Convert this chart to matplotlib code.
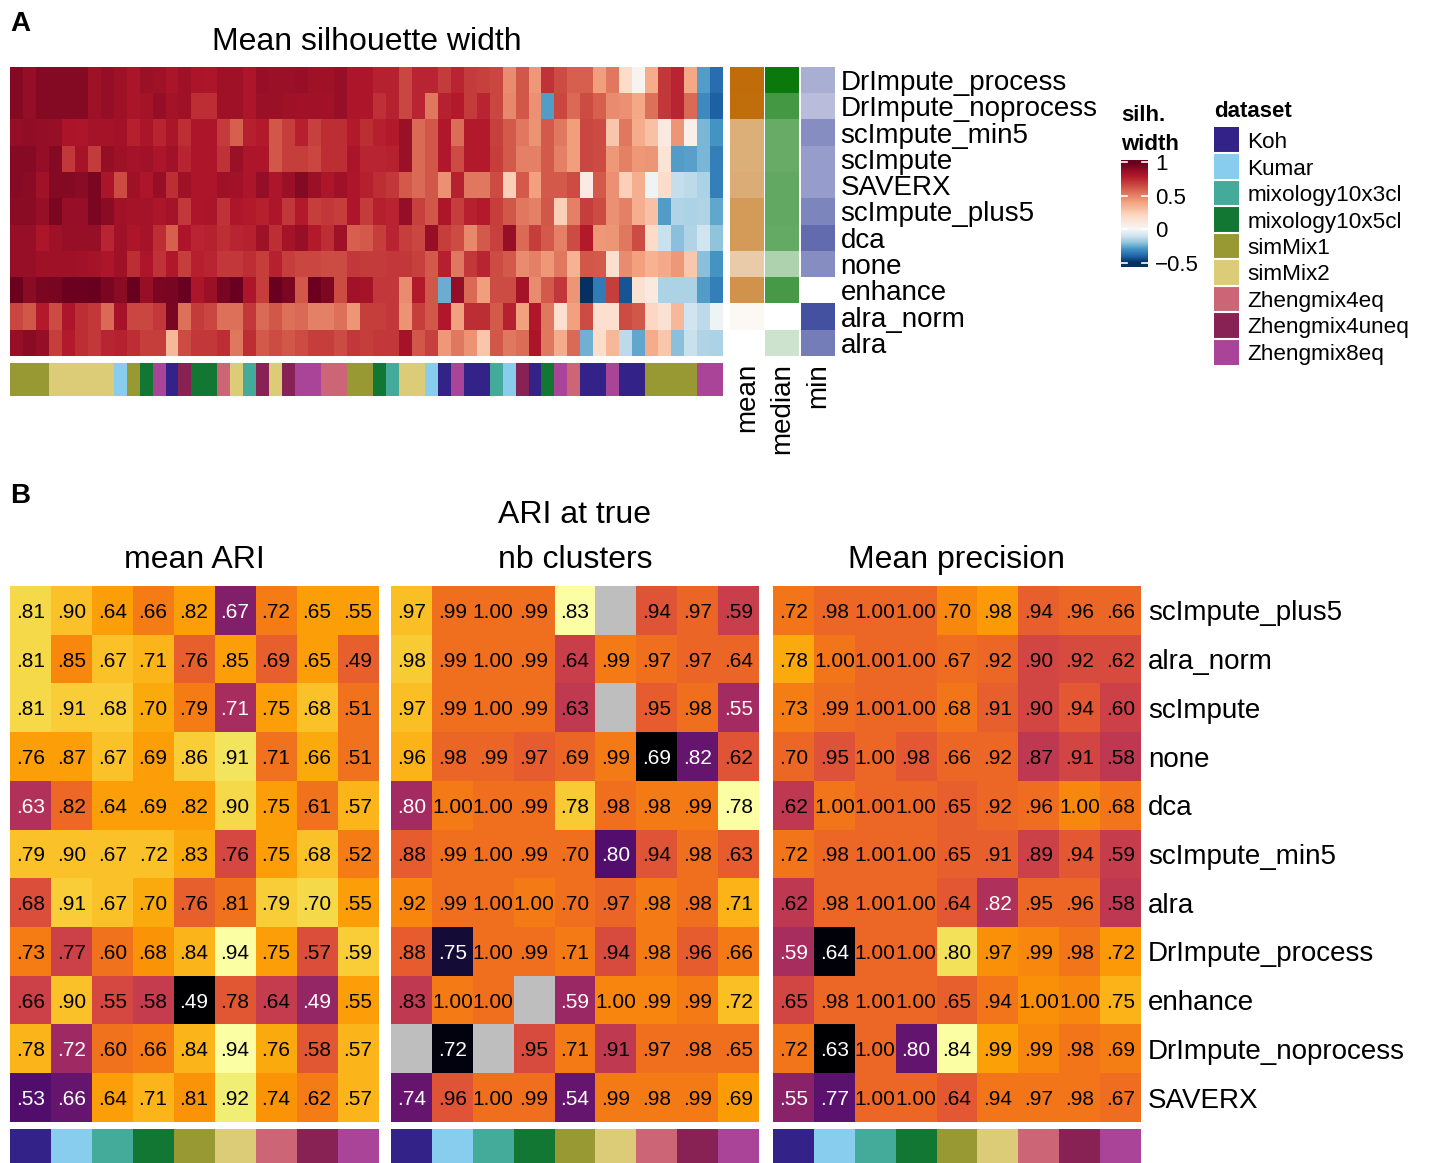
"""Imputation benchmark figure.

  A  per-subpopulation mean silhouette width for each imputation method,
     with mean / median / min summary columns and a dataset annotation bar.
  B  clustering scores per dataset (mean ARI, ARI at true number of
     clusters, mean precision), coloured after column-median centring.
"""
import numpy as np
import matplotlib

matplotlib.use("Agg")
import matplotlib.pyplot as plt
from matplotlib.colors import (ListedColormap, LinearSegmentedColormap,
                               Normalize, PowerNorm, to_rgba)

plt.rcParams["font.family"] = ["Liberation Sans", "DejaVu Sans"]

FIG_W, FIG_H = 1434, 1163
nan = np.nan

DATASETS = ["Koh", "Kumar", "mixology10x3cl", "mixology10x5cl", "simMix1",
            "simMix2", "Zhengmix4eq", "Zhengmix4uneq", "Zhengmix8eq"]
DATASET_COLORS = ["#332288", "#88CCEE", "#44AA99", "#117733", "#999933",
                  "#DDCC77", "#CC6677", "#882255", "#AA4499"]

# ---- panel A: silhouette width per subpopulation ----
silh_methods = ["DrImpute_process", "DrImpute_noprocess", "scImpute_min5",
                "scImpute", "SAVERX", "scImpute_plus5", "dca", "none",
                "enhance", "alra_norm", "alra"]

silh_col_dataset = (
    ["simMix1"] * 3 + ["simMix2"] * 5 + ["Kumar", "simMix1", "mixology10x5cl",
    "Zhengmix8eq", "Koh", "Zhengmix4uneq", "mixology10x5cl", "mixology10x5cl",
    "Zhengmix4eq", "simMix2", "mixology10x3cl", "Zhengmix4uneq", "simMix2",
    "Zhengmix4uneq", "Zhengmix8eq", "Zhengmix8eq", "Zhengmix4eq", "Zhengmix4eq",
    "simMix1", "simMix1", "mixology10x5cl", "mixology10x3cl", "simMix2",
    "simMix2", "Kumar", "Koh", "Zhengmix8eq", "Koh", "Koh", "mixology10x3cl",
    "Kumar", "Zhengmix4uneq", "Koh", "mixology10x5cl", "Zhengmix8eq",
    "Zhengmix4eq", "Koh", "Koh", "Zhengmix8eq", "Koh", "Koh"]
    + ["simMix1"] * 4 + ["Zhengmix8eq"] * 2
)

silh = [
    [.92, .88, .92, .92, .92, .92, .85, .88, .85, .82, .86, .85, .82, .85,
     .82, .81, .85, .85, .81, .87, .86, .86, .87, .85, .85, .87, .81, .81,
     .77, .77, .67, .76, .76, .70, .76, .70, .68, .67, .47, .62, .43, .72,
     .65, .60, .60, .42, .53, .18, .03, .37, .71, .76, .39, -.28, -.38],
    [.92, .88, .92, .92, .92, .92, .85, .88, .85, .82, .83, .88, .83, .85,
     .74, .74, .85, .85, .81, .86, .86, .85, .84, .84, .84, .87, .81, .81,
     .73, .77, .67, .76, .53, .77, .79, .70, .76, .67, .48, .62, .46, -.28,
     .67, .57, .65, .60, .47, .46, .39, .55, .71, .76, .57, -.32, -.41],
    [.88, .89, .88, .87, .82, .81, .83, .83, .84, .78, .82, .76, .82, .74,
     .81, .81, .70, .60, .78, .79, .62, .69, .78, .68, .74, .74, .79, .74,
     .78, .79, .86, .57, .62, .80, .56, .79, .79, .68, .61, .53, .45, .61,
     .53, .42, .67, .65, .28, .53, .37, .29, .10, .44, .05, -.23, -.30],
    [.91, .91, .88, .92, .71, .83, .70, .88, .85, .83, .84, .81, .84, .76,
     .81, .81, .72, .86, .81, .81, .62, .69, .69, .67, .74, .74, .82, .76,
     .76, .77, .86, .57, .62, .80, .65, .79, .79, .69, .61, .50, .50, .61,
     .50, .42, .67, .65, .43, .50, .43, .44, .14, -.28, -.27, -.23, -.34],
    [.91, .90, .84, .92, .92, .90, .94, .82, .65, .85, .81, .87, .74, .85,
     .81, .81, .85, .84, .81, .88, .81, .86, .92, .86, .81, .85, .81, .78,
     .74, .71, .61, .57, .62, .46, .77, .53, .53, .65, .24, .61, .41, .61,
     .61, .65, .08, .61, .46, .24, .36, -.02, .18, -.12, -.13, -.16, -.34],
    [.90, .90, .87, .94, .87, .87, .94, .90, .84, .83, .83, .81, .83, .71,
     .81, .82, .72, .81, .79, .78, .81, .71, .79, .69, .71, .69, .81, .70,
     .78, .76, .88, .68, .62, .81, .69, .77, .79, .69, .62, .53, .50, .62,
     .24, .50, .69, .65, .46, .50, .36, .29, -.28, -.15, -.16, -.15, -.26],
    [.87, .87, .81, .85, .87, .87, .87, .76, .85, .81, .83, .74, .60, .81,
     .76, .77, .74, .76, .77, .85, .74, .83, .87, .79, .74, .85, .60, .61,
     .69, .76, .69, .67, .87, .69, .65, .48, .61, .68, .87, .57, .69, .61,
     .50, .65, .79, .43, .44, .53, .65, .20, -.11, -.21, -.15, -.10, -.20],
    [.87, .87, .85, .85, .85, .84, .83, .81, .85, .74, .81, .72, .80, .69,
     .78, .76, .71, .71, .74, .69, .77, .69, .67, .67, .65, .65, .71, .70,
     .70, .71, .71, .68, .61, .78, .53, .71, .76, .65, .61, .47, .50, .43,
     .53, .35, .62, .61, .17, .47, .41, .35, .38, .43, .27, -.21, -.30],
    [.98, .90, .94, .95, .98, .98, .99, .94, .90, .99, .87, .94, .95, .99,
     .81, .86, .95, .99, .81, .69, .99, .94, .62, .98, .93, .65, .84, .83,
     .71, .71, .47, .79, .62, -.25, .88, .57, .42, .65, .65, .83, .47, .61,
     .71, .44, -.50, -.35, .69, -.43, .15, .10, -.16, -.16, -.16, -.28, -.34],
    [.67, .62, .79, .65, .81, .74, .71, .57, .83, .67, .67, .71, .94, .55,
     .70, .67, .55, .55, .71, .57, .62, .55, .57, .50, .50, .55, .44, .69,
     .69, .71, .45, .69, .62, .80, .41, .74, .74, .61, .77, .41, .80, .53,
     .17, .41, .65, .17, .17, .65, .62, .21, .15, .33, -.10, -.13, -.02],
    [.87, .90, .88, .69, .79, .74, .71, .76, .77, .74, .69, .69, .33, .65,
     .71, .71, .74, .53, .74, .61, .65, .62, .65, .69, .69, .65, .71, .69,
     .71, .71, .83, .62, .68, .43, .53, .45, .28, .62, .53, .56, .82, .53,
     .37, .57, -.24, .18, .33, -.13, -.26, .37, .28, -.21, -.11, -.15, -.16],
]

# per-method summaries of the silhouette widths
silh_mean = [.690, .688, .592, .592, .594, .618, .618, .558, .628, .522, .520]
silh_median = [.820, .749, .711, .711, .716, .716, .714, .645, .746, .600, .622]
silh_min = [-.38, -.41, -.30, -.34, -.34, -.28, -.21, -.30, -.50, -.13, -.26]

# ---- panel B: clustering scores per dataset ----
score_methods = ["scImpute_plus5", "alra_norm", "scImpute", "none", "dca",
                 "scImpute_min5", "alra", "DrImpute_process", "enhance",
                 "DrImpute_noprocess", "SAVERX"]

mean_ari = [
    [.81, .90, .64, .66, .82, .67, .72, .65, .55],
    [.81, .85, .67, .71, .76, .85, .69, .65, .49],
    [.81, .91, .68, .70, .79, .71, .75, .68, .51],
    [.76, .87, .67, .69, .86, .91, .71, .66, .51],
    [.63, .82, .64, .69, .82, .90, .75, .61, .57],
    [.79, .90, .67, .72, .83, .76, .75, .68, .52],
    [.68, .91, .67, .70, .76, .81, .79, .70, .55],
    [.73, .77, .60, .68, .84, .94, .75, .57, .59],
    [.66, .90, .55, .58, .49, .78, .64, .49, .55],
    [.78, .72, .60, .66, .84, .94, .76, .58, .57],
    [.53, .66, .64, .71, .81, .92, .74, .62, .57],
]

ari_true_k = [
    [.97, .99, 1.00, .99, .83, nan, .94, .97, .59],
    [.98, .99, 1.00, .99, .64, .99, .97, .97, .64],
    [.97, .99, 1.00, .99, .63, nan, .95, .98, .55],
    [.96, .98, .99, .97, .69, .99, .69, .82, .62],
    [.80, 1.00, 1.00, .99, .78, .98, .98, .99, .78],
    [.88, .99, 1.00, .99, .70, .80, .94, .98, .63],
    [.92, .99, 1.00, 1.00, .70, .97, .98, .98, .71],
    [.88, .75, 1.00, .99, .71, .94, .98, .96, .66],
    [.83, 1.00, 1.00, nan, .59, 1.00, .99, .99, .72],
    [nan, .72, nan, .95, .71, .91, .97, .98, .65],
    [.74, .96, 1.00, .99, .54, .99, .98, .99, .69],
]

mean_precision = [
    [.72, .98, 1.00, 1.00, .70, .98, .94, .96, .66],
    [.78, 1.00, 1.00, 1.00, .67, .92, .90, .92, .62],
    [.73, .99, 1.00, 1.00, .68, .91, .90, .94, .60],
    [.70, .95, 1.00, .98, .66, .92, .87, .91, .58],
    [.62, 1.00, 1.00, 1.00, .65, .92, .96, 1.00, .68],
    [.72, .98, 1.00, 1.00, .65, .91, .89, .94, .59],
    [.62, .98, 1.00, 1.00, .64, .82, .95, .96, .58],
    [.59, .64, 1.00, 1.00, .80, .97, .99, .98, .72],
    [.65, .98, 1.00, 1.00, .65, .94, 1.00, 1.00, .75],
    [.72, .63, 1.00, .80, .84, .99, .99, .98, .69],
    [.55, .77, 1.00, 1.00, .64, .94, .97, .98, .67],
]


def add_axes_px(fig, x0, y0, x1, y1):
    """Axes from a pixel box (origin top-left)."""
    return fig.add_axes([x0 / FIG_W, 1 - y1 / FIG_H,
                         (x1 - x0) / FIG_W, (y1 - y0) / FIG_H])


def bare(ax):
    ax.set_xticks([])
    ax.set_yticks([])
    for s in ax.spines.values():
        s.set_visible(False)


def silh_cmap():
    # RdBu stretched asymmetrically: -0.5 -> darkest blue, 0 -> white, 1 -> darkest red
    rdbu = plt.get_cmap("RdBu_r")
    v = np.linspace(-0.5, 1, 301)
    return ListedColormap(rdbu(np.where(v < 0, 0.5 + v, 0.5 + v / 2)))


def fmt_score(v):
    s = f"{v:.2f}"
    return s[1:] if s.startswith("0") else s


fig = plt.figure(figsize=(FIG_W / 100, FIG_H / 100), dpi=100)
ds_cmap = ListedColormap(DATASET_COLORS)
SIL_CMAP = silh_cmap()
SIL_NORM = Normalize(-0.5, 1)

# ---------------- A ----------------
fig.text(10 / FIG_W, 1 - 31 / FIG_H, "A", fontsize=20, fontweight="bold",
         va="baseline")

ax = add_axes_px(fig, 10, 67, 723, 356)
ax.imshow(np.array(silh), cmap=SIL_CMAP, norm=SIL_NORM, aspect="auto",
          interpolation="nearest")
bare(ax)
ax.set_title("Mean silhouette width", fontsize=23, pad=12)

ds_idx = np.array([DATASETS.index(d) for d in silh_col_dataset])
ax = add_axes_px(fig, 10, 363, 723, 396)
ax.imshow(ds_idx[None, :], cmap=ds_cmap, vmin=-0.5, vmax=8.5, aspect="auto",
          interpolation="nearest")
bare(ax)

summaries = [("mean", silh_mean, "#c06c0a", 730, 764),
             ("median", silh_median, "#0a780a", 765, 799),
             ("min", silh_min, "#4450a0", 801, 835)]
for name, vals, color, x0, x1 in summaries:
    vals = np.asarray(vals)
    ax = add_axes_px(fig, x0, 67, x1, 356)
    cmap = LinearSegmentedColormap.from_list(name, ["white", color])
    ax.imshow(vals[:, None], cmap=cmap,
              norm=PowerNorm(0.7, vmin=vals.min(), vmax=vals.max()),
              aspect="auto", interpolation="nearest")
    bare(ax)
    ax.set_xticks([0])
    ax.set_xticklabels([name], rotation=90, fontsize=20)
    ax.tick_params(axis="x", length=0, pad=5)
# method names to the right of the last summary column
ax.yaxis.tick_right()
ax.set_yticks(range(len(silh_methods)))
ax.set_yticklabels(silh_methods, fontsize=20)
ax.tick_params(axis="y", length=0, pad=4)

# colour key for silhouette width
ax = add_axes_px(fig, 1121, 160, 1148, 267)
grad = np.linspace(1.03, -0.56, 200)[:, None]
ax.imshow(grad, cmap=SIL_CMAP, norm=SIL_NORM, aspect="auto",
          extent=(0, 1, -0.56, 1.03))
bare(ax)
ticks = [1, 0.5, 0, -0.5]
for t in ticks:
    ax.plot([0, 0.22], [t, t], color="white", lw=1.2)
    ax.plot([0.78, 1], [t, t], color="white", lw=1.2)
ax.set_xlim(0, 1)
ax.set_ylim(-0.56, 1.03)
ax.yaxis.tick_right()
ax.set_yticks(ticks)
ax.set_yticklabels(["1", "0.5", "0", "\u22120.5"], fontsize=16)
ax.tick_params(axis="y", length=0, pad=5)
ax.set_title("silh.\nwidth", loc="left", fontsize=16, fontweight="bold",
             pad=7, linespacing=1.5)

# dataset key
ax = add_axes_px(fig, 1214, 127, 1239, 365)
ax.imshow(np.arange(len(DATASETS))[:, None], cmap=ds_cmap, vmin=-0.5,
          vmax=8.5, aspect="auto", interpolation="nearest")
bare(ax)
for k in range(1, len(DATASETS)):
    ax.axhline(k - 0.5, color="white", lw=1.5)
ax.yaxis.tick_right()
ax.set_yticks(range(len(DATASETS)))
ax.set_yticklabels(DATASETS, fontsize=16.2)
ax.tick_params(axis="y", length=0, pad=6)
ax.set_title("dataset", loc="left", fontsize=16, fontweight="bold", pad=7)

# ---------------- B ----------------
fig.text(10 / FIG_W, 1 - 503 / FIG_H, "B", fontsize=20, fontweight="bold",
         va="baseline")

score_panels = [("mean ARI", mean_ari, 10, 378),
                ("ARI at true\nnb clusters", ari_true_k, 391, 759),
                ("Mean precision", mean_precision, 773, 1141)]
NA_COLOR = to_rgba("#bebebe")
for title, values, x0, x1 in score_panels:
    vals = np.array(values, dtype=float)
    centred = vals - np.nanmedian(vals, axis=0)
    norm = Normalize(np.nanmin(centred), np.nanmax(centred))
    rgba = plt.get_cmap("inferno")(norm(np.nan_to_num(centred)))
    rgba[np.isnan(vals)] = NA_COLOR

    ax = add_axes_px(fig, x0, 586, x1, 1122)
    ax.imshow(rgba, aspect="auto", interpolation="nearest")
    bare(ax)
    ax.set_title(title, fontsize=23, pad=13, linespacing=1.65)
    for i, j in np.ndindex(vals.shape):
        if np.isnan(vals[i, j]):
            continue
        txt_color = "white" if norm(centred[i, j]) < 0.49 else "black"
        ax.text(j, i + 0.153, fmt_score(vals[i, j]), ha="center",
                va="baseline", fontsize=15, color=txt_color)

    bar = add_axes_px(fig, x0, 1129, x1, 1163)
    bar.imshow(np.arange(len(DATASETS))[None, :], cmap=ds_cmap, vmin=-0.5,
               vmax=8.5, aspect="auto", interpolation="nearest")
    bare(bar)

ax.yaxis.tick_right()
ax.set_yticks(range(len(score_methods)))
ax.set_yticklabels(score_methods, fontsize=20)
ax.tick_params(axis="y", length=0, pad=5)

fig.savefig("out.png", dpi=100)
